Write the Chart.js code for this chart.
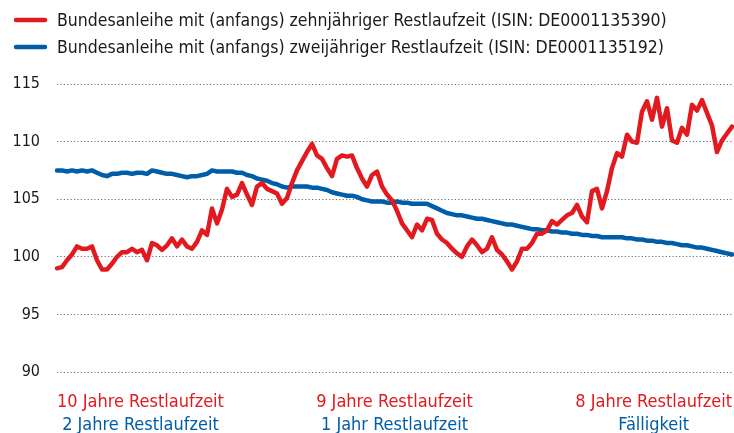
<!DOCTYPE html>
<html>
<head>
<meta charset="utf-8">
<script src="https://cdn.jsdelivr.net/npm/chart.js"></script>
<style>
  html, body { margin: 0; padding: 0; background: #fff; }
  #wrap { width: 734px; height: 433px; position: relative; }
</style>
</head>
<body>
<div id="wrap"><canvas id="bondChart"></canvas></div>
<script>
const seriesNames = [
    'Bundesanleihe mit (anfangs) zehnjähriger Restlaufzeit (ISIN: DE0001135390)',
    'Bundesanleihe mit (anfangs) zweijähriger Restlaufzeit (ISIN: DE0001135192)',
];

const tenYear = [
    99.0, 99.1, 99.7, 100.2, 100.9, 100.7, 100.7, 100.9, 99.7, 98.9,
    98.9, 99.4, 100.0, 100.4, 100.4, 100.7, 100.4, 100.6, 99.7, 101.2,
    101.0, 100.6, 101.0, 101.6, 100.9, 101.5, 100.9, 100.7, 101.3, 102.3,
    101.9, 104.2, 102.9, 104.1, 105.9, 105.2, 105.4, 106.4, 105.4, 104.5,
    106.1, 106.4, 105.9, 105.7, 105.5, 104.6, 105.1, 106.4, 107.5, 108.3,
    109.1, 109.8, 108.8, 108.5, 107.7, 107.0, 108.5, 108.8, 108.7, 108.8,
    107.7, 106.8, 106.1, 107.1, 107.4, 106.1, 105.4, 104.9, 104.0, 102.9,
    102.3, 101.7, 102.8, 102.3, 103.3, 103.2, 102.0, 101.5, 101.2, 100.7,
    100.3, 100.0, 100.9, 101.5, 101.0, 100.4, 100.7, 101.7, 100.6, 100.2,
    99.6, 98.9, 99.6, 100.7, 100.7, 101.2, 102.0, 102.0, 102.3, 103.1,
    102.8, 103.2, 103.6, 103.8, 104.5, 103.5, 103.0, 105.7, 105.9, 104.2,
    105.7, 107.7, 109.0, 108.7, 110.6, 110.0, 109.9, 112.6, 113.5, 111.9,
    113.8, 111.3, 112.9, 110.1, 109.9, 111.2, 110.6, 113.2, 112.7, 113.6,
    112.5, 111.4, 109.1, 110.1, 110.7, 111.3,
];

// Kurs der Zweijährigen (blau)
const twoYear = [
    107.5, 107.5, 107.4, 107.5, 107.4, 107.5, 107.4, 107.5, 107.3, 107.1,
    107.0, 107.2, 107.2, 107.3, 107.3, 107.2, 107.3, 107.3, 107.2, 107.5,
    107.4, 107.3, 107.2, 107.2, 107.1, 107.0, 106.9, 107.0, 107.0, 107.1,
    107.2, 107.5, 107.4, 107.4, 107.4, 107.4, 107.3, 107.3, 107.1, 107.0,
    106.8, 106.7, 106.6, 106.4, 106.3, 106.1, 106.0, 106.1, 106.1, 106.1,
    106.1, 106.0, 106.0, 105.9, 105.8, 105.6, 105.5, 105.4, 105.3, 105.3,
    105.2, 105.0, 104.9, 104.8, 104.8, 104.8, 104.7, 104.7, 104.8, 104.7,
    104.7, 104.6, 104.6, 104.6, 104.6, 104.4, 104.2, 104.0, 103.8, 103.7,
    103.6, 103.6, 103.5, 103.4, 103.3, 103.3, 103.2, 103.1, 103.0, 102.9,
    102.8, 102.8, 102.7, 102.6, 102.5, 102.4, 102.4, 102.3, 102.3, 102.2,
    102.2, 102.1, 102.1, 102.0, 102.0, 101.9, 101.9, 101.8, 101.8, 101.7,
    101.7, 101.7, 101.7, 101.7, 101.6, 101.6, 101.5, 101.5, 101.4, 101.4,
    101.3, 101.3, 101.2, 101.2, 101.1, 101.0, 101.0, 100.9, 100.8, 100.8,
    100.7, 100.6, 100.5, 100.4, 100.3, 100.2,
];

const yTicks = [90, 95, 100, 105, 110, 115];

// Beschriftung unter der Achse: oben rot (Zehnjährige), unten blau (Zweijährige)
const periodLabelsTen = ['10 Jahre Restlaufzeit', '9 Jahre Restlaufzeit', '8 Jahre Restlaufzeit'];
const periodLabelsTwo = ['2 Jahre Restlaufzeit', '1 Jahr Restlaufzeit', 'Fälligkeit'];

const RED = '#e2191f';
const BLUE = '#005ea8';
const FONT = "'DejaVu Sans Condensed', 'DejaVu Sans', sans-serif";

const days = tenYear.map((v, i) => i);

const textPlugin = {
    id: 'bondText',
    afterDraw(chart) {
        const ctx = chart.ctx;
        const xs = chart.scales.x;
        ctx.save();

        // legend
        const colors = [RED, BLUE];
        ctx.font = '17.5px ' + FONT;
        ctx.textBaseline = 'middle';
        ctx.textAlign = 'left';
        seriesNames.forEach((name, k) => {
            const y = 20 + k * 27;
            ctx.strokeStyle = colors[k];
            ctx.lineWidth = 4.5;
            ctx.lineCap = 'round';
            ctx.beginPath();
            ctx.moveTo(16, y);
            ctx.lineTo(45, y);
            ctx.stroke();
            ctx.fillStyle = '#1a1a1a';
            ctx.fillText(name, 57, y + 1);
        });

        // period labels below the plot
        const last = days.length - 1;
        const positions = [0, last / 2, last];
        const aligns = ['left', 'center', 'right'];
        ctx.font = '18px ' + FONT;
        periodLabelsTen.forEach((txt, k) => {
            const px = xs.getPixelForValue(positions[k]);
            ctx.textAlign = aligns[k];
            ctx.fillStyle = RED;
            ctx.fillText(txt, px, 402);
            const w = ctx.measureText(txt).width;
            let cx = px;
            if (aligns[k] === 'left') cx = px + w / 2;
            if (aligns[k] === 'right') cx = px - w / 2;
            ctx.textAlign = 'center';
            ctx.fillStyle = BLUE;
            ctx.fillText(periodLabelsTwo[k], cx, 425);
        });
        ctx.restore();
    },
};

const ctx = document.getElementById('bondChart').getContext('2d');
new Chart(ctx, {
    type: 'line',
    data: {
        labels: days,
        datasets: [
            {
                label: seriesNames[0],
                data: tenYear,
                borderColor: RED,
                borderWidth: 4.5,
                pointRadius: 0,
                tension: 0,
                borderJoinStyle: 'round',
                borderCapStyle: 'round',
            },
            {
                label: seriesNames[1],
                data: twoYear,
                borderColor: BLUE,
                borderWidth: 4.5,
                pointRadius: 0,
                tension: 0,
                borderJoinStyle: 'round',
                borderCapStyle: 'round',
            },
        ],
    },
    options: {
        responsive: true,
        maintainAspectRatio: false,
        animation: false,
        layout: { padding: { top: 84, bottom: 61, right: 2, left: 0 } },
        plugins: {
            legend: { display: false },
            tooltip: { enabled: false },
        },
        scales: {
            x: { display: false },
            y: {
                min: 90,
                max: 115,
                afterFit: (s) => { s.width = 57; },
                afterBuildTicks: (s) => { s.ticks = yTicks.map((v) => ({ value: v })); },
                border: { display: false, dash: [1.2, 2.2] },
                grid: {
                    color: '#6e6e6e',
                    lineWidth: 1,
                    drawTicks: false,
                },
                ticks: {
                    padding: 17,
                    color: '#1a1a1a',
                    font: { family: FONT, size: 16 },
                },
            },
        },
    },
    plugins: [textPlugin],
});
</script>
</body>
</html>
